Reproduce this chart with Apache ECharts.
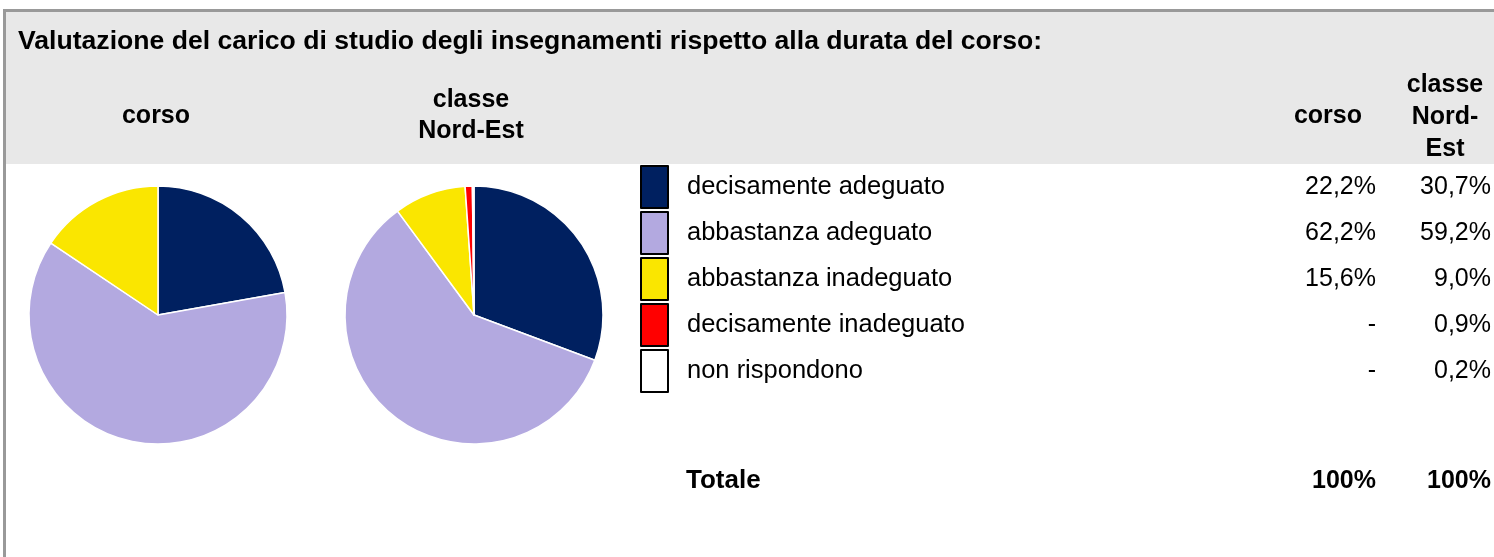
<!DOCTYPE html>
<html>
<head>
<meta charset="utf-8">
<script src="https://cdn.jsdelivr.net/npm/echarts@6/dist/echarts.min.js"></script>
<style>
  html, body { margin: 0; padding: 0; background: #fff; }
  #chart1 { width: 1494px; height: 557px; }
</style>
</head>
<body>
<div id="chart1"></div>
<script>
var titleText = 'Valutazione del carico di studio degli insegnamenti rispetto alla durata del corso:';
var categories = ['decisamente adeguato', 'abbastanza adeguato', 'abbastanza inadeguato', 'decisamente inadeguato', 'non rispondono'];
var colors = ['#002060', '#b3a9e0', '#fae600', '#ff0000', '#ffffff'];
// null = "-" in the table
var corsoValues = [22.2, 62.2, 15.6, null, null];
var classeValues = [30.7, 59.2, 9.0, 0.9, 0.2];
var totals = ['100%', '100%'];

var font = '"Liberation Sans", Arial, sans-serif';

function fmt(v) {
    if (v == null) return '-';
    return v.toFixed(1).replace('.', ',') + '%';
}

function pieData(values) {
    var out = [];
    values.forEach(function(v, i) {
        if (v == null) return;
        out.push({ name: categories[i], value: v, itemStyle: { color: colors[i] } });
    });
    return out;
}

function pieSeries(name, center, values) {
    return {
        name: name,
        type: 'pie',
        center: center,
        radius: 129,
        startAngle: 90,
        clockwise: true,
        label: { show: false },
        labelLine: { show: false },
        emphasis: { disabled: true },
        animation: false,
        itemStyle: { borderColor: '#fff', borderWidth: 1.5 },
        data: pieData(values)
    };
}

var rowTop = 165, rowH = 46;
var bold = 'bold 25px ' + font;
var graphics = [
    { type: 'rect', shape: { x: 5, y: 11, width: 1489, height: 153 }, style: { fill: '#e8e8e8' } },
    { type: 'line', shape: { x1: 3, y1: 10.5, x2: 1494, y2: 10.5 }, style: { stroke: '#999', lineWidth: 3 } },
    { type: 'line', shape: { x1: 4.5, y1: 9, x2: 4.5, y2: 557 }, style: { stroke: '#999', lineWidth: 3 } },
    { type: 'text', x: 18, y: 42, style: { text: titleText, font: 'bold 26.6px ' + font, fill: '#000', verticalAlign: 'middle' } },
    { type: 'text', x: 156, y: 116, style: { text: 'corso', font: bold, fill: '#000', align: 'center', verticalAlign: 'middle' } },
    { type: 'text', x: 471, y: 116, style: { text: 'classe\nNord-Est', font: bold, lineHeight: 31, fill: '#000', align: 'center', verticalAlign: 'middle' } },
    { type: 'text', x: 1362, y: 116, style: { text: 'corso', font: bold, fill: '#000', align: 'right', verticalAlign: 'middle' } },
    { type: 'text', x: 1445, y: 117, style: { text: 'classe\nNord-\nEst', font: bold, lineHeight: 32, fill: '#000', align: 'center', verticalAlign: 'middle' } },
    { type: 'text', x: 686, y: 481, style: { text: 'Totale', font: 'bold 26px ' + font, fill: '#000', verticalAlign: 'middle' } },
    { type: 'text', x: 1376, y: 481, style: { text: totals[0], font: bold, fill: '#000', align: 'right', verticalAlign: 'middle' } },
    { type: 'text', x: 1491, y: 481, style: { text: totals[1], font: bold, fill: '#000', align: 'right', verticalAlign: 'middle' } }
];

categories.forEach(function(c, i) {
    var cy = rowTop + i * rowH + 22;
    graphics.push({ type: 'text', x: 1376, y: cy, style: { text: fmt(corsoValues[i]), font: '25px ' + font, fill: '#000', align: 'right', verticalAlign: 'middle' } });
    graphics.push({ type: 'text', x: 1491, y: cy, style: { text: fmt(classeValues[i]), font: '25px ' + font, fill: '#000', align: 'right', verticalAlign: 'middle' } });
});

var myChart = echarts.init(document.getElementById('chart1'));
var option = {
    backgroundColor: '#fff',
    animation: false,
    legend: {
        orient: 'vertical',
        left: 640,
        top: rowTop,
        padding: 0,
        itemWidth: 27,
        itemHeight: 42,
        itemGap: 2,
        icon: 'rect',
        selectedMode: false,
        data: categories.map(function(c, i) {
            return { name: c, itemStyle: { color: colors[i], borderColor: '#000', borderWidth: 2 } };
        }),
        textStyle: { fontSize: 25.5, fontFamily: font, color: '#000', padding: [0, 0, 0, 14] }
    },
    graphic: graphics,
    series: [
        pieSeries('corso', [158, 315], corsoValues),
        pieSeries('classe Nord-Est', [474, 315], classeValues)
    ]
};
myChart.setOption(option);
</script>
</body>
</html>
